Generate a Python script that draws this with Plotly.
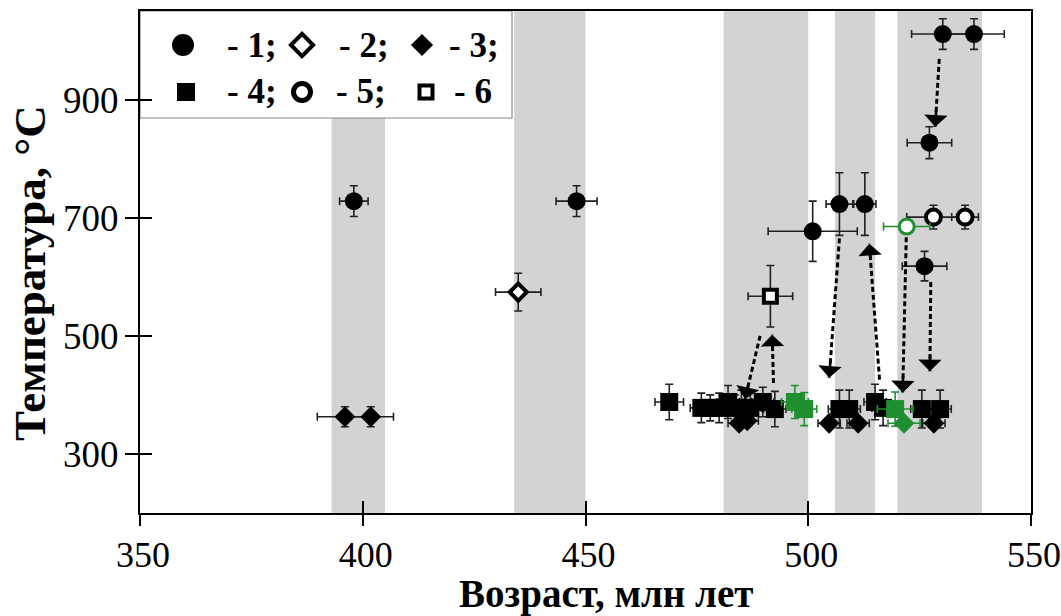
import math
import plotly.graph_objects as go

FONT = "Liberation Serif"
GREEN = "#1f8f2f"
BAND = "#d3d3d3"

# ---------------- data ----------------
x_ticks = [350, 400, 450, 500, 550]
y_ticks = [300, 500, 700, 900]
bands = [(393, 405), (434, 450), (481, 500), (506, 515), (520, 539)]

# 1 - filled circles
t1_x = [398.0, 448.0, 530.2, 537.2, 527.2, 507.0, 512.7, 501.0, 526.1]
t1_y = [728, 728, 1011, 1011, 827, 723, 723, 677, 618]
t1_xerr = [3.2, 4.6, 7.0, 6.8, 5.0, 3.0, 2.5, 10.0, 5.0]
t1_yerr = [26, 26, 26, 26, 27, 53, 53, 51, 25]

# 2 - open diamond
t2_x = [434.9]
t2_y = [574]
t2_xerr = [5.1]
t2_yerr = [32]

# 3 - filled diamonds (black)
t3_x = [396.0, 401.8, 484.5, 486.3, 504.7, 511.2, 528.2]
t3_y = [363, 363, 352, 356, 352, 352, 352]
t3_xerr = [6.2, 5.1, 2.5, 2.5, 2.5, 2.5, 2.5]
t3_yerr = [17, 17, 8, 8, 8, 8, 8]
# 3 - filled diamonds (green)
t3g_x = [521.5]
t3g_y = [352]
t3g_xerr = [3.6]
t3g_yerr = [6]

# 4 - filled squares (black)
t4_x = [468.8, 476.0, 478.0, 480.0, 482.0, 483.5, 485.0, 487.0, 489.8, 492.5,
        507.0, 509.2, 515.0, 516.8, 525.5, 529.6]
t4_y = [388, 378, 378, 378, 388, 378, 378, 378, 388, 376,
        376, 376, 388, 378, 376, 376]
t4_xerr = [3.2, 2.5, 2.5, 2.5, 2.5, 2.5, 2.5, 2.5, 2.5, 2.5,
           2.5, 2.5, 2.5, 2.5, 2.5, 2.5]
t4_yerr = [30, 25, 22, 25, 28, 22, 30, 25, 25, 30,
           32, 32, 30, 30, 32, 32]
# 4 - filled squares (green)
t4g_x = [497.0, 499.1, 519.5]
t4g_y = [388, 376, 376]
t4g_xerr = [3.0, 2.8, 4.0]
t4g_yerr = [28, 28, 29]

# 5 - open circles
t5_x = [528.1, 535.2]
t5_y = [701, 701]
t5_xerr = [6.0, 3.0]
t5_yerr = [20, 20]
t5g_x = [522.1]
t5g_y = [685]
t5g_xerr = [5.2]
t5g_yerr = [12]

# 6 - open square
t6_x = [491.5]
t6_y = [567]
t6_xerr = [5.0]
t6_yerr = [52]

# arrows: start (x, y) -> tip (x, y)
arrow_x0 = [529.4, 507.0, 516.0, 522.0, 527.5, 492.2, 489.2]
arrow_y0 = [969, 665, 426, 667, 591, 420, 500]
arrow_x1 = [528.5, 504.7, 513.7, 521.2, 527.3, 491.9, 485.8]
arrow_y1 = [854, 429, 656, 404, 440, 502, 393]

# legend entries
leg_symbols = ["circle", "diamond", "diamond", "square", "circle", "square"]
leg_fill = ["black", "white", "black", "black", "white", "white"]
leg_sizes = [22, 17, 17, 18, 17, 13]
leg_lw = [0, 4, 0, 0, 5, 4]
leg_labels = ["- 1;", "- 2;", "- 3;", "- 4;", "- 5;", "- 6"]

# ---------------- geometry ----------------
W, H = 1061, 616
ML, MR, MT, MB = 140, 30, 11, 103
PW, PH = W - ML - MR, H - MT - MB
XR = [350, 550]
YR = [200, 1050]
sx = PW / (XR[1] - XR[0])
sy = PH / (YR[1] - YR[0])


def px2paper(px, py):
    return (px - ML) / PW, (MT + PH - py) / PH


fig = go.Figure()


def add_pts(x, y, xe, ye, symbol, size, fill, lcol, lw, ecol):
    fig.add_trace(go.Scatter(
        x=x, y=y, mode="markers",
        marker=dict(symbol=symbol, size=size, color=fill,
                    line=dict(color=lcol, width=lw)),
        error_x=dict(type="data", array=xe, color=ecol, thickness=1.6, width=4),
        error_y=dict(type="data", array=ye, color=ecol, thickness=1.6, width=4),
        showlegend=False, cliponaxis=False,
    ))


add_pts(t4_x, t4_y, t4_xerr, t4_yerr, "square", 18, "black", "black", 0, "#222")
add_pts(t3_x, t3_y, t3_xerr, t3_yerr, "diamond", 16, "black", "black", 0, "#222")
add_pts(t4g_x, t4g_y, t4g_xerr, t4g_yerr, "square", 18, GREEN, GREEN, 0, GREEN)
add_pts(t3g_x, t3g_y, t3g_xerr, t3g_yerr, "diamond", 16, GREEN, GREEN, 0, GREEN)
add_pts(t1_x, t1_y, t1_xerr, t1_yerr, "circle", 18, "black", "black", 0, "#222")
add_pts(t2_x, t2_y, t2_xerr, t2_yerr, "diamond", 13, "white", "black", 4, "#222")
add_pts(t5_x, t5_y, t5_xerr, t5_yerr, "circle", 15, "white", "black", 4, "#222")
add_pts(t5g_x, t5g_y, t5g_xerr, t5g_yerr, "circle", 15, "white", GREEN, 3, GREEN)
add_pts(t6_x, t6_y, t6_xerr, t6_yerr, "square", 13, "white", "black", 4, "#222")

# dotted arrows
annos = []
for x0, y0, x1, y1 in zip(arrow_x0, arrow_y0, arrow_x1, arrow_y1):
    fig.add_trace(go.Scatter(
        x=[x0, x1], y=[y0, y1], mode="lines",
        line=dict(color="black", width=3, dash="5px,3px"),
        showlegend=False, hoverinfo="skip"))
    dxp = (x1 - x0) * sx
    dyp = -(y1 - y0) * sy
    L = math.hypot(dxp, dyp)
    ux, uy = dxp / L, dyp / L
    annos.append(dict(x=x1, y=y1, xref="x", yref="y", text="",
                      showarrow=True, arrowhead=1, arrowsize=1.5,
                      arrowwidth=2.6, arrowcolor="black",
                      ax=-ux * 18, ay=-uy * 18, axref="pixel", ayref="pixel"))

# background bands + legend box
shapes = []
for a, b in bands:
    shapes.append(dict(type="rect", xref="x", yref="paper", x0=a, x1=b, y0=0, y1=1,
                       fillcolor=BAND, line=dict(width=0), layer="below"))
lx1, ly0 = px2paper(512, 118)
shapes.append(dict(type="rect", xref="paper", yref="paper", x0=0, x1=lx1, y0=ly0, y1=1,
                   fillcolor="white", line=dict(color="#888", width=1.2), layer="below"))

# legend markers (on an overlay paper-like axis)
leg_px = [(183, 45), (302, 45), (422, 45), (186, 92), (302, 92), (426, 92)]
leg_txt_px = [(225, 45), (337, 45), (447, 45), (225, 92), (334, 92), (452, 92)]
for (px, py), sym, fc, sz, lw in zip(leg_px, leg_symbols, leg_fill, leg_sizes, leg_lw):
    xp, yp = px2paper(px, py)
    fig.add_trace(go.Scatter(
        x=[xp], y=[yp], xaxis="x3", yaxis="y3", mode="markers",
        marker=dict(symbol=sym, size=sz, color=fc, line=dict(color="black", width=lw)),
        showlegend=False, hoverinfo="skip", cliponaxis=False))
for (px, py), lab in zip(leg_txt_px, leg_labels):
    xp, yp = px2paper(px, py)
    annos.append(dict(x=xp, y=yp, xref="paper", yref="paper", text=lab, showarrow=False,
                      xanchor="left", yanchor="middle",
                      font=dict(family=FONT, size=35, color="black", weight="bold")))

# axis titles
annos.append(dict(x=(606 - ML) / PW, y=(MT + PH - 594) / PH, xref="paper", yref="paper",
                  text="Возраст, млн лет", showarrow=False, xanchor="center", yanchor="middle",
                  font=dict(family=FONT, size=39, color="black", weight="bold")))
annos.append(dict(x=(30 - ML) / PW, y=(MT + PH - 273) / PH, xref="paper", yref="paper",
                  text="Температура, °С", showarrow=False, textangle=-90,
                  xanchor="center", yanchor="middle",
                  font=dict(family=FONT, size=45, color="black", weight="bold")))

# dummy trace for overlay tick axes
fig.add_trace(go.Scatter(x=[None], y=[None], xaxis="x2", yaxis="y2", showlegend=False))

fig.update_layout(
    width=W, height=H,
    margin=dict(l=ML, r=MR, t=MT, b=MB, autoexpand=False),
    paper_bgcolor="white", plot_bgcolor="white",
    showlegend=False,
    shapes=shapes, annotations=annos,
    xaxis=dict(range=XR, tickvals=x_ticks, ticks="outside", ticklen=11, tickwidth=2,
               tickcolor="black", showline=True, linecolor="black", linewidth=2,
               mirror=True, showgrid=False, zeroline=False,
               tickfont=dict(family=FONT, size=36, color="black"),
               ticklabelstandoff=-2, ticklabelshift=3, ticklabeloverflow="allow",
               automargin=False),
    yaxis=dict(range=YR, tickvals=y_ticks, ticks="outside", ticklen=13, tickwidth=2,
               tickcolor="black", showline=True, linecolor="black", linewidth=2,
               mirror=True, showgrid=False, zeroline=False,
               tickfont=dict(family=FONT, size=37, color="black"),
               ticklabelstandoff=-1, automargin=False),
    xaxis2=dict(range=XR, tickvals=x_ticks, ticks="inside", ticklen=12, tickwidth=2,
                tickcolor="black", showticklabels=False, showgrid=False, zeroline=False,
                overlaying="x", anchor="y2", side="bottom"),
    yaxis2=dict(range=YR, tickvals=y_ticks, ticks="inside", ticklen=12, tickwidth=2,
                tickcolor="black", showticklabels=False, showgrid=False, zeroline=False,
                overlaying="y", anchor="x2", side="left"),
    xaxis3=dict(range=[0, 1], visible=False, overlaying="x", anchor="y3"),
    yaxis3=dict(range=[0, 1], visible=False, overlaying="y", anchor="x3"),
)

fig.write_html("out.html", config={"displayModeBar": False},
               post_script="document.body.style.margin='0';document.body.style.overflow='hidden';")
